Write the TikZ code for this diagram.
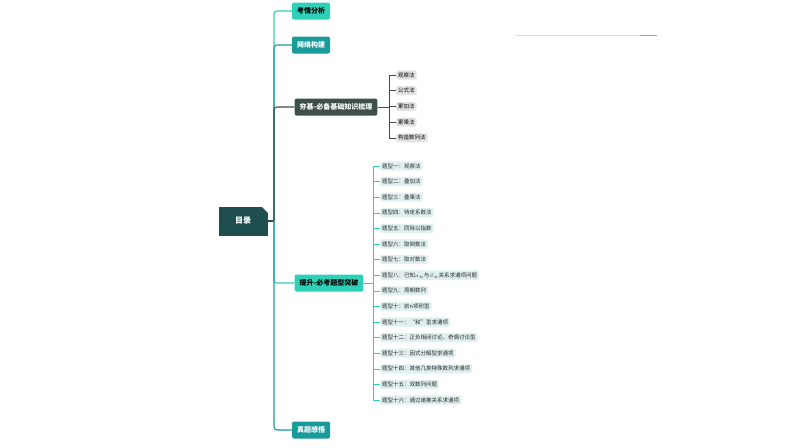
\documentclass[tikz,border=0pt]{standalone}
\usepackage{fontspec}
\newfontfamily\cjk{Noto Sans CJK SC}
\begin{document}
\begin{tikzpicture}[x=1pt,y=-1pt,font=\cjk\fontsize{6}{7}\selectfont,
 main/.style={rounded corners=2pt,minimum height=17pt,inner xsep=5pt,font=\cjk\bfseries\fontsize{7}{8}\selectfont},
 sub/.style={rounded corners=2pt,fill=gray!22,inner sep=2pt,anchor=west,font=\cjk\fontsize{5.5}{6.5}\selectfont},
 tsub/.style={rounded corners=2pt,fill=teal!12,inner sep=2pt,anchor=west,font=\cjk\fontsize{5.5}{6.5}\selectfont,text=black!85},
 conn/.style={line width=1.1pt,rounded corners=3pt},
 sconn/.style={line width=0.6pt}]
\useasboundingbox (0,0) rectangle (794,447);
\definecolor{c1}{HTML}{2ED1B8}\definecolor{c2}{HTML}{1A9B9B}\definecolor{c3}{HTML}{3D4F4B}\definecolor{c4}{HTML}{1F4E4F}
\node[fill=c4,text=white,minimum width=49pt,minimum height=29pt,font=\cjk\bfseries\fontsize{8}{9}\selectfont] (root) at (243,221) {目录};
\fill[white] (262,207) -- (268,207) -- (268,213) -- cycle;
\node[main,fill=c1,text=black] (a) at (311,11) {考情分析};
\node[main,fill=c2,text=white] (b) at (311,45) {网络构建};
\node[main,fill=c3,text=white] (c) at (336,107) {夯基-必备基础知识梳理};
\node[main,fill=c1,text=black] (d) at (329,283) {提升-必考题型突破};
\node[main,fill=c2,text=white] (e) at (311,430) {真题感悟};
\coordinate (t) at (274,221);
\draw[conn,c4] (root.east) -- (t);
\draw[conn,c1] (t) |- (a.west);
\draw[conn,c2] (t) |- (b.west);
\draw[conn,c3] (t) |- (c.west);
\draw[conn,c1] (t) |- (d.west);
\draw[conn,c2] (t) |- (e.west);
\foreach \t [count=\i] in {观察法,公式法,累加法,累乘法,构造数列法}{
 \node[sub] (s\i) at (396,{75+15.7*(\i-1)}) {\t};
 \draw[sconn,c3] (c.east) -- (389,107) |- (s\i.west);}
\foreach \t [count=\i] in {题型一：观察法,题型二：叠加法,题型三：叠乘法,题型四：待定系数法,题型五：同除以指数,题型六：取倒数法,题型七：取对数法,题型八：已知$a_n$与$S_n$关系求通项问题,题型九：周期数列,题型十：前n项积型,题型十一：“和”型求通项,题型十二：正负相间讨论、奇偶讨论型,题型十三：因式分解型求通项,题型十四：其他几类特殊数列求通项,题型十五：双数列问题,题型十六：通过递推关系求通项}{
 \node[tsub] (p\i) at (380,{166+15.6*(\i-1)}) {\t};
 \draw[sconn,c1] (d.east) -- (373,283) |- (p\i.west);}
\draw[gray!25,line width=1pt] (515,35) -- (640,35);
\draw[gray!70,line width=1pt] (640,35) -- (657,35);
\end{tikzpicture}
\end{document}
